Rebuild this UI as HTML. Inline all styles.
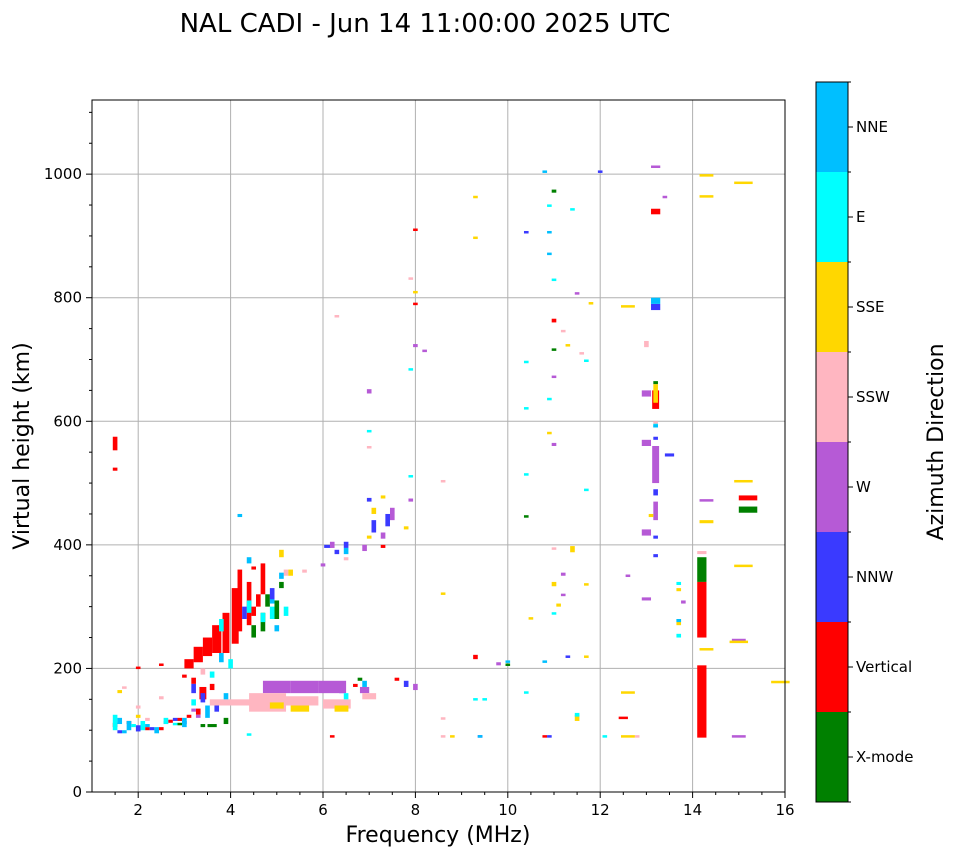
<!DOCTYPE html>
<html><head><meta charset="utf-8"><style>
body{margin:0;background:#fff;font-family:"Liberation Sans","DejaVu Sans",sans-serif;}
svg text{font-family:"DejaVu Sans","Liberation Sans",sans-serif;}
</style></head><body>
<svg id="chart" width="958" height="857" xmlns="http://www.w3.org/2000/svg">
<text x="425" y="32" font-size="26" text-anchor="middle">NAL CADI - Jun 14 11:00:00 2025 UTC</text>
<g id="grid"></g>
<g id="marks"></g>
<rect x="92" y="100" width="693" height="692" fill="none" stroke="#000" stroke-width="1"/>
<g id="axes"></g>
<text x="438" y="842" font-size="22" text-anchor="middle">Frequency (MHz)</text>
<text transform="translate(29,446) rotate(-90)" font-size="22" text-anchor="middle">Virtual height (km)</text>
<g id="cbar"></g>
<text transform="translate(943,442) rotate(-90)" font-size="22" text-anchor="middle">Azimuth Direction</text>
</svg>
<script>
const directions=["X-mode","Vertical","NNW","W","SSW","SSE","E","NNE"];
const dirColors=["#008000","#ff0000","#3a3aff","#b65ad6","#ffb6c1","#ffd700","#00ffff","#00bfff"];
const xTicks=[2,4,6,8,10,12,14,16];
const yTicks=[0,200,400,600,800,1000];
// each entry: [freq MHz (centre), height lo km, height hi km, width MHz(optional)]
const xmode=[[3.6,105,110,0.2],[3.9,110,120],[4.5,250,270],[4.7,260,290],[4.8,300,320],[5.0,280,310],[5.1,330,340],[10.4,445,448],[10.0,205,208],[11.0,970,975],[11.0,715,718],[14.2,340,380,0.2],[15.2,452,462,0.4],[13.2,660,665],[6.8,180,185],[3.4,105,110],[2.9,108,112]];
const vertical=[[3.1,200,215,0.2],[3.3,210,235,0.2],[3.5,220,250,0.2],[3.7,225,270,0.2],[3.9,225,290,0.15],[4.1,240,330,0.15],[4.2,260,360,0.1],[4.4,270,340],[4.5,285,300],[4.6,300,320],[4.7,320,370],[4.5,360,365],[3.2,175,185],[3.4,150,170,0.15],[3.6,165,175],[3.3,125,135],[2.9,115,120],[2.5,100,105],[2.2,100,105],[1.5,105,112],[1.5,520,525],[1.5,553,575],[2.0,200,203],[2.5,205,208],[6.2,88,92],[7.3,395,400],[8.0,908,912],[8.0,788,792],[9.3,215,222],[11.0,760,766],[12.5,118,122,0.2],[13.2,935,944,0.2],[13.2,620,650,0.15],[14.2,250,340,0.2],[14.2,88,205,0.2],[15.2,472,480,0.4],[10.8,88,92],[7.6,180,185],[6.7,170,175],[1.8,110,115],[2.7,112,117],[3.1,120,125],[3.0,185,190]];
const nnw=[[1.6,95,100],[2.0,98,108],[3.2,160,175],[3.4,145,160],[3.7,130,140],[4.3,280,300],[4.9,310,330],[6.1,395,400,0.15],[6.3,385,392],[6.5,395,405],[7.1,420,440],[7.4,430,450],[6.4,160,165],[9.4,88,92],[10.4,905,908],[10.9,88,92],[11.3,218,221],[12.0,1003,1006],[13.2,780,790,0.2],[13.2,570,575],[13.2,380,385],[13.2,480,490],[13.2,410,415],[13.5,543,548,0.2],[7.0,470,476],[7.8,170,180],[2.3,100,105],[2.8,115,120],[3.0,110,115]];
const west=[[3.3,120,125],[5.0,160,180,0.6],[5.6,160,180,0.6],[6.2,160,180,0.6],[6.9,160,170,0.2],[6.2,395,405],[6.9,390,400],[7.3,410,420],[7.5,440,460],[7.9,470,475],[7.0,645,652],[8.0,720,725],[8.2,713,716],[11.0,560,565],[11.2,350,355],[11.2,318,321],[11.0,670,674],[11.5,806,809],[13.2,1010,1014,0.2],[13.4,962,965],[13.0,640,650,0.2],[13.0,560,570,0.2],[13.2,500,560,0.15],[13.0,415,425,0.2],[13.0,310,315,0.2],[13.2,440,470],[12.6,348,352],[13.8,305,310],[15.0,88,92,0.3],[15.0,245,248,0.3],[14.3,472,474,0.3],[8.0,165,175],[6.0,365,370],[9.8,205,210],[2.6,110,115],[3.2,130,135]];
const ssw=[[4.0,140,150,0.9],[4.8,130,160,0.8],[5.5,140,155,0.8],[6.3,135,150,0.6],[7.0,150,160,0.3],[3.4,190,200],[5.2,350,360],[5.6,355,360],[6.5,375,380],[6.3,768,772],[7.0,557,560],[7.9,830,833],[8.6,502,505],[8.6,118,121],[8.6,88,92],[11.0,393,396],[11.2,745,748],[11.6,708,712],[13.0,720,730],[12.8,88,92],[13.2,590,600],[14.2,385,390,0.2],[2.5,150,155],[2.0,135,140],[1.7,168,171],[2.2,115,120]];
const sse=[[5.0,135,145,0.3],[5.5,130,140,0.4],[6.4,130,140,0.3],[5.1,380,392],[5.3,350,360],[7.1,450,460],[7.0,410,415],[7.3,475,480],[7.8,425,430],[8.0,808,811],[8.6,320,323],[9.3,962,965],[9.3,896,899],[10.9,580,583],[10.5,280,283],[11.0,333,340],[11.1,300,305],[11.3,722,725],[11.4,388,398],[11.7,335,338],[11.7,218,221],[11.8,790,793],[11.5,115,125],[12.6,785,788,0.3],[12.6,160,163,0.3],[12.6,88,92,0.3],[13.2,630,660],[13.1,445,450],[13.7,270,280],[13.7,325,330],[14.3,997,1000,0.3],[14.3,962,966,0.3],[14.3,435,440,0.3],[14.3,230,233,0.3],[15.1,985,988,0.4],[15.1,365,368,0.4],[15.1,502,505,0.4],[15.0,242,245,0.4],[15.9,177,180,0.4],[8.8,88,92],[1.6,160,165],[2.0,120,125]];
const east=[[1.5,100,125],[2.1,100,115],[2.6,110,120],[3.2,140,150],[3.6,185,195],[3.8,260,280],[4.0,200,215],[4.4,290,310],[4.7,275,290],[4.9,280,300],[5.2,285,300],[4.4,92,95],[6.5,150,160],[7.0,583,586],[7.9,683,686],[7.9,510,513],[9.3,148,152],[9.5,148,152],[10.4,512,516],[10.4,620,623],[10.4,695,698],[10.4,160,163],[10.9,635,638],[10.9,948,951],[11.0,828,831],[11.0,288,291],[11.4,942,945],[11.7,697,700],[11.7,488,491],[11.5,122,128],[13.7,250,256],[13.2,590,596],[12.1,88,92],[13.7,335,340],[1.9,105,110],[2.8,108,112]];
const nne=[[1.6,110,120],[1.8,100,115],[2.4,95,105],[3.0,105,120],[3.5,120,140],[3.9,150,160],[3.8,210,225],[4.2,445,450],[4.4,370,380],[5.1,345,355],[5.0,260,270],[4.9,305,312],[6.5,385,395],[6.9,170,180],[9.4,88,92],[10.0,210,213],[10.8,1003,1006],[10.9,870,873],[10.9,905,908],[10.8,210,213],[13.2,790,800,0.2],[13.2,590,595],[13.7,275,280],[2.2,105,110],[1.7,95,100]];
const series=[xmode,vertical,nnw,west,ssw,sse,east,nne];

const NS="http://www.w3.org/2000/svg";
const X=f=>92+(f-1)*(693/15);
const Y=h=>792-h*(692/1120);
function mk(tag,attrs,parent){const e=document.createElementNS(NS,tag);for(const k in attrs)e.setAttribute(k,attrs[k]);parent.appendChild(e);return e;}
const grid=document.getElementById('grid'),axes=document.getElementById('axes'),marks=document.getElementById('marks'),cbar=document.getElementById('cbar');
xTicks.forEach(t=>{
  const l=mk('line',{x1:X(t),x2:X(t),y1:100,y2:792,stroke:'#b0b0b0','stroke-width':1},grid);
  
  
  mk('line',{x1:X(t),x2:X(t),y1:792,y2:798,stroke:'#000'},axes);
  const tx=mk('text',{x:X(t),y:815,'font-size':15,'text-anchor':'middle'},axes);tx.textContent=t;
  
  
});
yTicks.forEach(t=>{
  const l=mk('line',{x1:92,x2:785,y1:Y(t),y2:Y(t),stroke:'#b0b0b0','stroke-width':1},grid);
  
  
  mk('line',{x1:86,x2:92,y1:Y(t),y2:Y(t),stroke:'#000'},axes);
  const tx=mk('text',{x:82,y:Y(t)+5,'font-size':15,'text-anchor':'end'},axes);tx.textContent=t;
  
  
});
for(let h=50;h<1120;h+=50){if(h%200)mk('line',{x1:89,x2:92,y1:Y(h),y2:Y(h),stroke:'#000'},axes);}
for(let f=1.5;f<16;f+=0.5){if(f%2)mk('line',{x1:X(f),x2:X(f),y1:792,y2:795,stroke:'#000'},axes);}
series.forEach((arr,i)=>{arr.forEach(p=>{
  const w=(p[3]||0.1)*(693/15);const y1=Y(p[2]),y0=Y(p[1]);
  const r=mk('rect',{x:X(p[0])-w/2,y:y1,width:w,height:Math.max(2.5,y0-y1),fill:dirColors[i]},marks);
  
  
});});
const segH=90;
directions.forEach((d,i)=>{
  const top=802-(i+1)*segH;
  const r=mk('rect',{x:816,y:top,width:32,height:segH,fill:dirColors[i]},cbar);
  
  
  mk('line',{x1:848,x2:853,y1:top+segH/2,y2:top+segH/2,stroke:'#000'},cbar);
  const tx=mk('text',{x:856,y:top+segH/2+5,'font-size':15},cbar);tx.textContent=d;
  
  
});
for(let i=0;i<=8;i++)mk('line',{x1:848,x2:851,y1:82+i*segH,y2:82+i*segH,stroke:'#000'},cbar);
mk('rect',{x:816,y:82,width:32,height:720,fill:'none',stroke:'#000'},cbar);
</script>
</body></html>
